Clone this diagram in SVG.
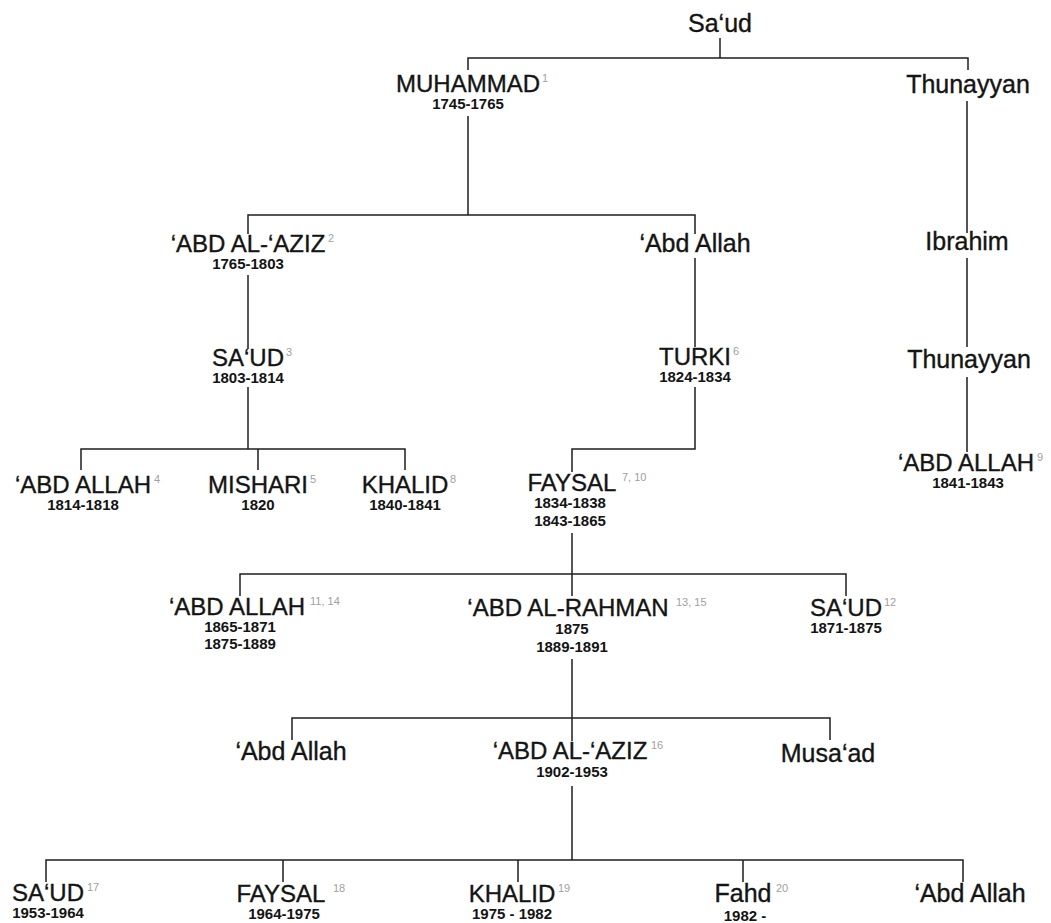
<svg xmlns="http://www.w3.org/2000/svg" width="1051" height="923" viewBox="0 0 1051 923">
<style>
text{font-family:"Liberation Sans",Arial,Helvetica,sans-serif;fill:#141414}
.n{font-size:24px;text-anchor:middle;stroke:#141414;stroke-width:0.35}
.m{font-size:25px;text-anchor:middle;stroke:#141414;stroke-width:0.35}
.d{font-size:15px;font-weight:bold;text-anchor:middle}
.s{font-size:11px;fill:#a0a0a0}
.c path{fill:none;stroke:#1e1e1e;stroke-width:1.5}
</style>
<rect width="1051" height="923" fill="#fff"/>
<g class="c" id="connectors">
<path d="M720 38V58"/>
<path d="M468 70V58H968V70"/>
<path d="M468 116V215"/>
<path d="M248 234V215H695V234"/>
<path d="M967 101V233M967 258V347M967 377V452"/>
<path d="M248 275V349"/>
<path d="M695 258V347"/>
<path d="M248 387V449"/>
<path d="M81 470V449H405V470M258 449V470"/>
<path d="M695 387V449H572V472"/>
<path d="M572 533V574"/>
<path d="M240 596V574H846V596M572 574V596"/>
<path d="M572 659V718"/>
<path d="M292 740V718H830V740M572 718V741"/>
<path d="M572 786V860"/>
<path d="M46 882V860H963V882M283 860V882M518 860V882M743 860V882"/>
</g>
<g id="n-saud-root"><text class="m" x="720" y="32">Sa‘ud</text></g>
<g id="n-muhammad"><text class="n" x="468" y="92">MUHAMMAD</text><text class="s" x="542" y="82">1</text><text class="d" x="468" y="109">1745-1765</text></g>
<g id="n-thunayyan1"><text class="m" x="968" y="93">Thunayyan</text></g>
<g id="n-abdalaziz1"><text class="n" x="248" y="252">‘ABD AL-‘AZIZ</text><text class="s" x="328" y="242">2</text><text class="d" x="248" y="269">1765-1803</text></g>
<g id="n-abdallah-a"><text class="m" x="695" y="252">‘Abd Allah</text></g>
<g id="n-ibrahim"><text class="m" x="967" y="250">Ibrahim</text></g>
<g id="n-saud3"><text class="n" x="248" y="366">SA‘UD</text><text class="s" x="286" y="356">3</text><text class="d" x="248" y="383">1803-1814</text></g>
<g id="n-turki"><text class="n" x="695" y="365">TURKI</text><text class="s" x="733" y="355">6</text><text class="d" x="695" y="382">1824-1834</text></g>
<g id="n-thunayyan2"><text class="m" x="969" y="368">Thunayyan</text></g>
<g id="n-abdallah4"><text class="n" x="83" y="493">‘ABD ALLAH</text><text class="s" x="154" y="483">4</text><text class="d" x="83" y="510">1814-1818</text></g>
<g id="n-mishari"><text class="n" x="258" y="493">MISHARI</text><text class="s" x="310" y="483">5</text><text class="d" x="258" y="510">1820</text></g>
<g id="n-khalid8"><text class="n" x="405" y="493">KHALID</text><text class="s" x="450" y="483">8</text><text class="d" x="405" y="510">1840-1841</text></g>
<g id="n-faysal"><text class="n" x="572" y="491">FAYSAL</text><text class="s" x="622" y="481">7, 10</text><text class="d" x="570" y="508">1834-1838</text><text class="d" x="570" y="526">1843-1865</text></g>
<g id="n-abdallah9"><text class="n" x="966" y="471">‘ABD ALLAH</text><text class="s" x="1037" y="461">9</text><text class="d" x="968" y="488">1841-1843</text></g>
<g id="n-abdallah11"><text class="n" x="237" y="615">‘ABD ALLAH</text><text class="s" x="310" y="605">11, 14</text><text class="d" x="240" y="632">1865-1871</text><text class="d" x="240" y="649">1875-1889</text></g>
<g id="n-abdalrahman"><text class="n" x="568" y="616">‘ABD AL-RAHMAN</text><text class="s" x="676" y="606">13, 15</text><text class="d" x="572" y="634">1875</text><text class="d" x="572" y="652">1889-1891</text></g>
<g id="n-saud12"><text class="n" x="846" y="616">SA‘UD</text><text class="s" x="884" y="606">12</text><text class="d" x="846" y="633">1871-1875</text></g>
<g id="n-abdallah-b"><text class="m" x="291" y="760">‘Abd Allah</text></g>
<g id="n-abdalaziz16"><text class="n" x="570" y="759">‘ABD AL-‘AZIZ</text><text class="s" x="651" y="749">16</text><text class="d" x="572" y="777">1902-1953</text></g>
<g id="n-musaad"><text class="m" x="828" y="762">Musa‘ad</text></g>
<g id="n-saud17"><text class="n" x="48" y="901">SA‘UD</text><text class="s" x="87" y="891">17</text><text class="d" x="48" y="918">1953-1964</text></g>
<g id="n-faysal18"><text class="n" x="281" y="902">FAYSAL</text><text class="s" x="333" y="892">18</text><text class="d" x="284" y="919">1964-1975</text></g>
<g id="n-khalid19"><text class="n" x="512" y="902">KHALID</text><text class="s" x="558" y="892">19</text><text class="d" x="512" y="919">1975 - 1982</text></g>
<g id="n-fahd"><text class="m" x="743" y="902">Fahd</text><text class="s" x="776" y="892">20</text><text class="d" x="745" y="921">1982 -</text></g>
<g id="n-abdallah-c"><text class="m" x="970" y="902">‘Abd Allah</text></g>
</svg>
